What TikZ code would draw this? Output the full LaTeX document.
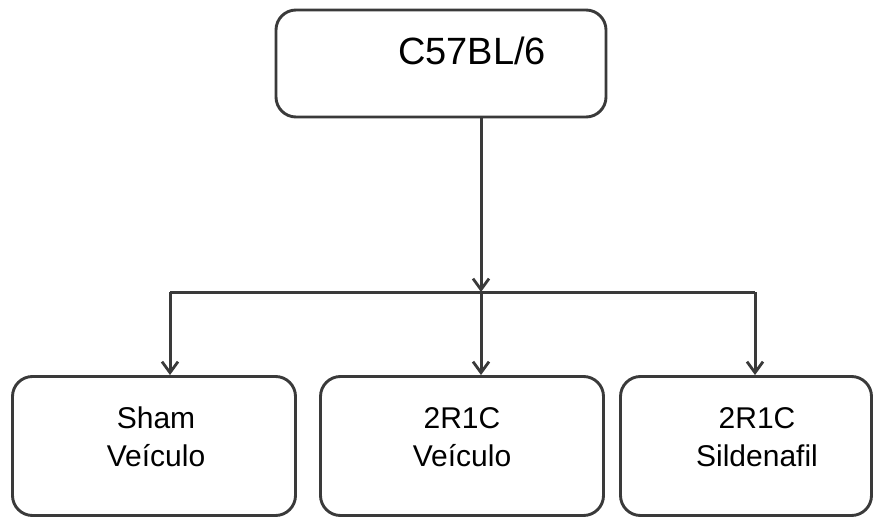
\documentclass[tikz,border=0pt]{standalone}
\usepackage{fontspec}
\setmainfont{Liberation Sans}
\usetikzlibrary{arrows.meta}
\definecolor{linegray}{HTML}{3A3A3A}
\tikzset{
  box/.style={draw=linegray, line width=2.9pt, rounded corners=20pt, inner sep=0pt},
  label text/.style={font=\fontsize{30}{38}\selectfont, align=center, inner sep=0pt},
  title text/.style={font=\fontsize{38}{44}\selectfont, inner sep=0pt},
  link/.style={draw=linegray, line width=3pt},
  arrowlink/.style={link, -{Straight Barb[length=11pt,width=16pt,line width=2.8pt]}},
}
\begin{document}
\begin{tikzpicture}[x=1pt, y=-1pt]
  \useasboundingbox (0,0) rectangle (874,518);
  % top box
  \node[box, minimum width=330pt, minimum height=107pt] (top) at (441,63.5) {};
  \node[title text, anchor=base] (toptext) at (472,65) {C57BL/6};
  % bottom boxes
  \node[box, minimum width=283pt, minimum height=139pt] (sham) at (154,446) {};
  \node[box, minimum width=283pt, minimum height=139pt] (veh) at (462,446) {};
  \node[box, minimum width=251pt, minimum height=139pt] (sil) at (746,446) {};
  \node[label text] (shamtext) at (156,437) {Sham\\Veículo};
  \node[label text] (vehtext) at (462,437) {2R1C\\Veículo};
  \node[label text] (siltext) at (757,437) {2R1C\\Sildenafil};
  % branching connectors
  \coordinate (split) at (481,292);
  \coordinate (lcorner) at (170,292);
  \coordinate (rcorner) at (755,292);
  \draw[arrowlink] (top.south -| split) -- (split);
  \draw[link] (lcorner) -- (rcorner);
  \draw[arrowlink] (lcorner) -- (lcorner |- sham.north);
  \draw[arrowlink] (split) -- (split |- veh.north);
  \draw[arrowlink] (rcorner) -- (rcorner |- sil.north);
\end{tikzpicture}
\end{document}
